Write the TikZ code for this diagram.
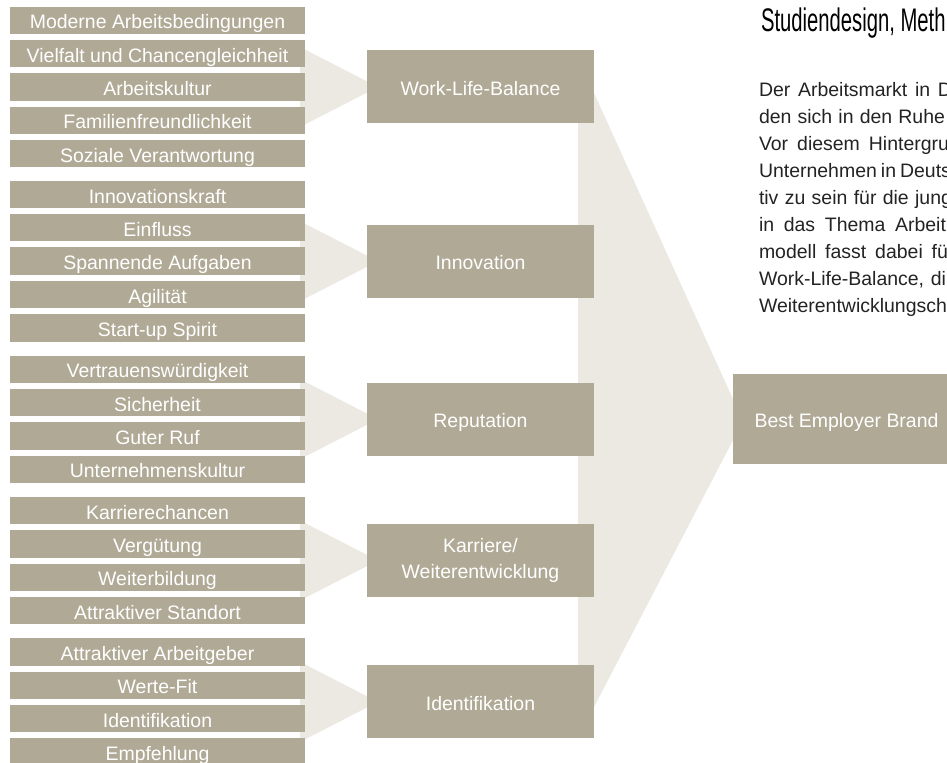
\documentclass[tikz,border=0pt]{standalone}
\usepackage{fontspec}
\setmainfont{Liberation Sans}
\newfontfamily\titlefont{Liberation Sans}[FakeStretch=0.62]
\definecolor{boxc}{RGB}{176,169,150}
\definecolor{func}{RGB}{236,233,227}
\definecolor{txtc}{RGB}{35,35,35}
\begin{document}
\begin{tikzpicture}[x=0.75pt,y=-0.75pt,
  lbox/.style={fill=boxc,text=white,minimum width=221.25pt,minimum height=20.475pt,
    inner sep=0pt,outer sep=0pt,font=\fontsize{14.6pt}{20pt}\selectfont,
    text height=13pt,text depth=0pt},
  mbox/.style={fill=boxc,text=white,minimum width=170.25pt,minimum height=54.75pt,
    inner sep=0pt,outer sep=0pt,align=center,font=\fontsize{14.6pt}{19.9pt}\selectfont},
  bbox/.style={mbox,minimum height=67.5pt},
  oneline/.style={text height=12.4pt,text depth=0pt},
  funnel/.style={fill=func},
  body/.style={anchor=base west,inner sep=0pt,outer sep=0pt,text=txtc,
    font=\fontsize{14.6pt}{20pt}\selectfont},
  headline/.style={anchor=base west,inner sep=0pt,outer sep=0pt,text=black,
    font=\titlefont\fontsize{24.5pt}{28pt}\selectfont}]

\useasboundingbox (0,0) rectangle (947,763);
\clip (0,0) rectangle (947,763);

% funnels (background)
\fill[funnel] (578,93) -- (594,93) -- (743,421) -- (594,707) -- (578,707) -- cycle;
\foreach \c in {87, 261.2, 419.2, 560.5, 701.9}{
  \fill[funnel] (300,\c-40) -- (378,\c) -- (300,\c+40) -- cycle;
}

% left column
\node[lbox] (a1) at (157.5,20.25) {Moderne Arbeitsbedingungen};
\node[lbox] (a2) at (157.5,53.6) {Vielfalt und Chancengleichheit};
\node[lbox] (a3) at (157.5,86.95) {Arbeitskultur};
\node[lbox] (a4) at (157.5,120.3) {Familienfreundlichkeit};
\node[lbox] (a5) at (157.5,153.65) {Soziale Verantwortung};

\node[lbox] (b1) at (157.5,194.45) {Innovationskraft};
\node[lbox] (b2) at (157.5,227.8) {Einfluss};
\node[lbox] (b3) at (157.5,261.15) {Spannende Aufgaben};
\node[lbox] (b4) at (157.5,294.5) {Agilität};
\node[lbox] (b5) at (157.5,327.85) {Start-up Spirit};

\node[lbox] (c1) at (157.5,369.15) {Vertrauenswürdigkeit};
\node[lbox] (c2) at (157.5,402.5) {Sicherheit};
\node[lbox] (c3) at (157.5,435.85) {Guter Ruf};
\node[lbox] (c4) at (157.5,469.2) {Unternehmenskultur};

\node[lbox] (d1) at (157.5,510.5) {Karrierechancen};
\node[lbox] (d2) at (157.5,543.85) {Vergütung};
\node[lbox] (d3) at (157.5,577.2) {Weiterbildung};
\node[lbox] (d4) at (157.5,610.55) {Attraktiver Standort};

\node[lbox] (e1) at (157.5,651.85) {Attraktiver Arbeitgeber};
\node[lbox] (e2) at (157.5,685.2) {Werte-Fit};
\node[lbox] (e3) at (157.5,718.55) {Identifikation};
\node[lbox] (e4) at (157.5,751.9) {Empfehlung};

% middle column
\node[mbox,oneline] (m1) at (480.5,87) {Work-Life-Balance};
\node[mbox,oneline] (m2) at (480.5,261.2) {Innovation};
\node[mbox,oneline] (m3) at (480.5,419.2) {Reputation};
\node[mbox] (m4) at (480.5,560.5) {Karriere/\\Weiterentwicklung};
\node[mbox,oneline] (m5) at (480.5,701.9) {Identifikation};

% target
\node[bbox,oneline] (best) at (846.5,419) {Best Employer Brand};

% text column
\node[headline] (title) at (761,31.7) {Studiendesign, Meth};
\node[body] (t1) at (759,96.5) {\makebox[144.75pt][s]{Der Arbeitsmarkt in D}};
\node[body] (t2) at (759,123.5) {\makebox[139.5pt][s]{den sich in den Ruhe}};
\node[body] (t3) at (759,150.5) {\makebox[142.5pt][s]{Vor diesem Hintergru}};
\node[body] (t4) at (759,177.5) {\makebox[144pt][s]{Unternehmen in Deuts}};
\node[body] (t5) at (759,204.5) {\makebox[144.75pt][s]{tiv zu sein für die jung}};
\node[body] (t6) at (759,231.5) {\makebox[140.25pt][s]{in das Thema Arbeit}};
\node[body] (t7) at (759,258.5) {\makebox[141.75pt][s]{modell fasst dabei fü}};
\node[body] (t8) at (759,285.5) {\makebox[140.25pt][s]{Work-Life-Balance, di}};
\node[body] (t9) at (759,312.5) {Weiterentwicklungsch};
\end{tikzpicture}
\end{document}
